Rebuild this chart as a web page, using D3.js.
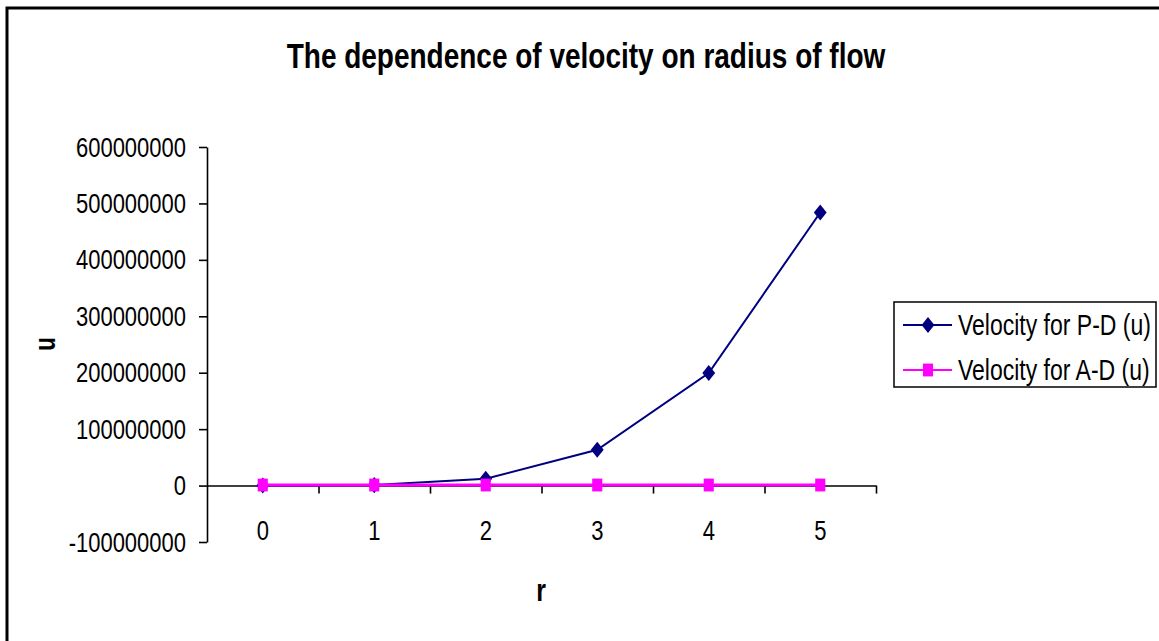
<!DOCTYPE html>
<html>
<head>
<meta charset="utf-8">
<script src="https://cdn.jsdelivr.net/npm/d3@7"></script>
<style>
  body { margin: 0; background: #fff; }
  svg text { font-family: "Liberation Sans", Arial, sans-serif; }
</style>
</head>
<body>
<svg id="chart" width="1159" height="641"></svg>
<script>
// data
const radius = ["0", "1", "2", "3", "4", "5"];
const velocityPD = [0, 800000, 12000000, 63500000, 199500000, 484000000];
const velocityAD = [1000000, 1000000, 1000000, 1000000, 1000000, 1000000];
const yTicks = [-100000000, 0, 100000000, 200000000, 300000000, 400000000, 500000000, 600000000];
const seriesNames = ["Velocity for P-D (u)", "Velocity for A-D (u)"];

// the original picture is a bit taller than wide, text and markers look stretched
const K = 1.28;

const svg = d3.select("#chart");

// outer frame (right / bottom edges are cut off)
svg.append("rect")
    .attr("x", 7).attr("y", 8)
    .attr("width", 1200).attr("height", 700)
    .attr("fill", "none")
    .attr("stroke", "#000")
    .attr("stroke-width", 3);

const plot = { left: 207, right: 876, top: 147, bottom: 542 };

const x = d3.scaleBand()
    .domain(radius)
    .range([plot.left, plot.right]);

const y = d3.scaleLinear()
    .domain([-100000000, 600000000])
    .range([plot.bottom, plot.top]);

// stretch a text vertically around its own baseline
function stretch(sel, k) {
    sel.each(function () {
        const t = d3.select(this);
        const ty = +t.attr("y") || 0;
        t.attr("y", 0).attr("transform", `translate(0,${ty}) scale(1,${k})`);
    });
}

// title
svg.append("text")
    .attr("x", 586)
    .attr("y", 68)
    .attr("text-anchor", "middle")
    .style("font-size", "28px")
    .style("font-weight", "bold")
    .text("The dependence of velocity on radius of flow")
    .call(stretch, K);

// y axis (plain hyphen for negatives, like the original)
const yAxis = svg.append("g")
    .attr("transform", `translate(${plot.left},0)`)
    .call(d3.axisLeft(y).tickValues(yTicks).tickSize(8).tickSizeOuter(0).tickPadding(13).tickFormat(d => String(d)));
yAxis.selectAll("path, line").attr("stroke", "#000").attr("stroke-width", 1.6);
yAxis.selectAll("text").style("font-size", "22px").attr("fill", "#000").call(stretch, K);

// x axis line with ticks between categories
const xEdges = d3.scaleLinear().domain([0, radius.length]).range([plot.left, plot.right]);
const xAxis = svg.append("g")
    .attr("transform", `translate(0,${y(0)})`)
    .call(d3.axisBottom(xEdges).ticks(radius.length).tickSize(8).tickSizeOuter(0).tickFormat(""));
xAxis.selectAll("path, line").attr("stroke", "#000").attr("stroke-width", 1.6);
xAxis.selectAll(".tick").filter(d => d === 0).remove();

// category labels
const xLabels = svg.append("g")
    .attr("transform", `translate(0,${y(0)})`)
    .call(d3.axisBottom(x).tickSize(0).tickPadding(34));
xLabels.select(".domain").remove();
xLabels.selectAll("text").style("font-size", "22px").attr("fill", "#000").call(stretch, K);

// axis titles
svg.append("text")
    .attr("transform", `translate(55,344) rotate(-90) scale(1,1.35)`)
    .attr("text-anchor", "middle")
    .style("font-size", "22px")
    .style("font-weight", "bold")
    .text("u");

svg.append("text")
    .attr("x", 541)
    .attr("y", 601)
    .attr("text-anchor", "middle")
    .style("font-size", "25px")
    .style("font-weight", "bold")
    .text("r")
    .call(stretch, K);

const cx = (d, i) => x(radius[i]) + x.bandwidth() / 2;

const line = d3.line()
    .x(cx)
    .y(d => y(d));

const diamond = d3.symbol().type(d3.symbolDiamond2).size(105);
const square = d3.symbol().type(d3.symbolSquare2).size(130);

// P-D series
svg.append("path")
    .datum(velocityPD)
    .attr("fill", "none")
    .attr("stroke", "#000080")
    .attr("stroke-width", 2)
    .attr("d", line);
svg.selectAll(".pd")
    .data(velocityPD)
    .enter().append("path")
    .attr("class", "pd")
    .attr("transform", (d, i) => `translate(${cx(d, i)},${y(d)}) scale(1,1.25)`)
    .attr("d", diamond)
    .attr("fill", "#000080");

// A-D series
svg.append("path")
    .datum(velocityAD)
    .attr("fill", "none")
    .attr("stroke", "#FF00FF")
    .attr("stroke-width", 3)
    .attr("d", line);
svg.selectAll(".ad")
    .data(velocityAD)
    .enter().append("path")
    .attr("class", "ad")
    .attr("transform", (d, i) => `translate(${cx(d, i)},${y(d)}) scale(1,1.27)`)
    .attr("d", square)
    .attr("fill", "#FF00FF");

// legend
const legend = svg.append("g").attr("transform", "translate(894,302)");
legend.append("rect")
    .attr("width", 262).attr("height", 85)
    .attr("fill", "#fff")
    .attr("stroke", "#000")
    .attr("stroke-width", 1.5);

const colors = ["#000080", "#FF00FF"];
const markers = [diamond, square];
const markerScale = [1.25, 1.27];
seriesNames.forEach((name, i) => {
    const row = legend.append("g").attr("transform", `translate(0,${23 + i * 45})`);
    row.append("line")
        .attr("x1", 9).attr("x2", 58)
        .attr("stroke", colors[i])
        .attr("stroke-width", 2);
    row.append("path")
        .attr("transform", `translate(34,0) scale(1,${markerScale[i]})`)
        .attr("d", markers[i])
        .attr("fill", colors[i]);
    row.append("text")
        .attr("x", 64)
        .attr("y", 0)
        .attr("dy", "0.35em")
        .style("font-size", "23px")
        .text(name)
        .call(stretch, K);
});
</script>
</body>
</html>
